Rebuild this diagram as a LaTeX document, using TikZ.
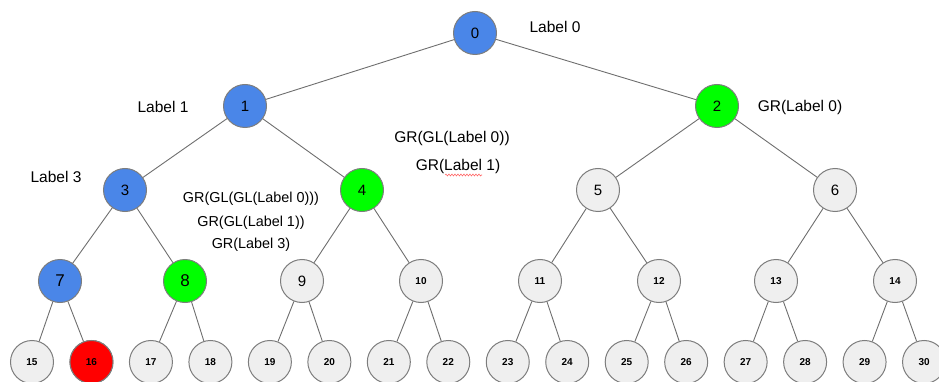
\documentclass[tikz,border=0pt]{standalone}
\usepackage{fontspec}
\setmainfont{Liberation Sans}
\usetikzlibrary{decorations.pathmorphing}

\definecolor{heapblue}{RGB}{74, 134, 232}
\definecolor{heapgreen}{RGB}{0, 255, 0}
\definecolor{heapred}{RGB}{255, 0, 0}
\definecolor{heapgrey}{RGB}{239, 239, 239}
\definecolor{rimgrey}{RGB}{125, 125, 125}
\definecolor{edgegrey}{RGB}{110, 110, 110}

\tikzset{
  vertex/.style={circle, draw=rimgrey, line width=1pt, minimum size=43pt, inner sep=0pt, fill=heapgrey, font=\fontsize{15}{15}\selectfont},
  bigvertex/.style={vertex, font=\fontsize{17}{17}\selectfont},
  leaf/.style={vertex, font=\fontsize{10}{10}\selectfont\bfseries},
  note/.style={font=\fontsize{15.5}{18}\selectfont, inner sep=0pt},
  smallnote/.style={font=\fontsize{14.4}{17}\selectfont, inner sep=0pt},
  link/.style={draw=edgegrey, line width=0.9pt}
}

\begin{document}
\begin{tikzpicture}[x=1pt, y=-1pt]
  \useasboundingbox (0, 0) rectangle (939, 382);

  % Root and first levels
  \node[vertex, fill=heapblue] (n0) at (475, 33) {0};
  \node[vertex, fill=heapblue] (n1) at (245, 106) {1};
  \node[vertex, fill=heapgreen] (n2) at (717, 106) {2};
  \node[vertex, fill=heapblue] (n3) at (125, 190) {3};
  \node[vertex, fill=heapgreen] (n4) at (362, 190) {4};
  \node[vertex] (n5) at (598, 190) {5};
  \node[vertex] (n6) at (835, 190) {6};

  % Level 3
  \node[bigvertex, fill=heapblue] (n7) at (60, 281) {7};
  \node[bigvertex, fill=heapgreen] (n8) at (185, 281) {8};
  \node[vertex] (n9) at (302, 281) {9};
  \node[leaf] (n10) at (421, 281) {10};
  \node[leaf] (n11) at (540, 281) {11};
  \node[leaf] (n12) at (659, 281) {12};
  \node[leaf] (n13) at (776, 281) {13};
  \node[leaf] (n14) at (895, 281) {14};

  % Leaves
  \foreach \k [evaluate=\k as \xpos using 32+59.47*(\k-15)] in {15,...,30}
    \node[leaf] (n\k) at (\xpos, 362) {\k};
  \node[leaf, fill=heapred] at (n16) {16};

  % Edges, parent -> child
  \foreach \c in {1,...,30} {
    \pgfmathtruncatemacro{\p}{(\c-1)/2}
    \draw[link] (n\p) -- (n\c);
  }

  % Labels
  \node[note] (lab0) at (555, 27) {Label 0};
  \node[note] (lab1) at (163, 107) {Label 1};
  \node[note] (lab2) at (800, 107) {GR(Label 0)};
  \node[note] (lab4a) at (452, 138) {GR(GL(Label 0))};
  \node[note] (lab4b) at (458, 166) {GR(Label 1)};
  \node[note] (lab3) at (56, 177) {Label 3};
  \node[smallnote] (lab8a) at (251, 199) {GR(GL(GL(Label 0)))};
  \node[smallnote] (lab8b) at (251, 223) {GR(GL(Label 1))};
  \node[smallnote] (lab8c) at (251, 245) {GR(Label 3)};

  % spell-check squiggle
  \coordinate (sq0) at (445, 175);
  \coordinate (sq1) at (482, 175);
  \draw[heapred!60, line width=0.6pt, decorate, decoration={snake, amplitude=0.9pt, segment length=3pt}] (sq0) -- (sq1);
\end{tikzpicture}
\end{document}
